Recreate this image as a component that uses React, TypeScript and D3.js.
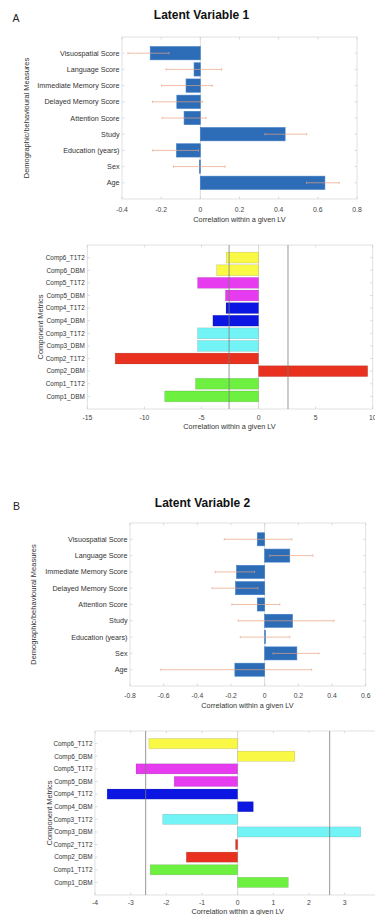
import React from "react";
import * as d3 from "d3";

// ---------- DATA ----------
const demoCategories = [
  "Age",
  "Sex",
  "Education (years)",
  "Study",
  "Attention Score",
  "Delayed Memory Score",
  "Immediate Memory Score",
  "Language Score",
  "Visuospatial Score",
];
const lv1Demo = [0.636, -0.005, -0.122, 0.433, -0.083, -0.12, -0.073, -0.032, -0.256];
const lv1DemoLo = [0.543, -0.137, -0.243, 0.33, -0.195, -0.244, -0.198, -0.175, -0.37];
const lv1DemoHi = [0.709, 0.126, -0.01, 0.543, 0.029, 0.01, 0.061, 0.108, -0.16];

const lv2Demo = [-0.177, 0.191, 0.002, 0.165, -0.044, -0.173, -0.167, 0.149, -0.044];
const lv2DemoLo = [-0.617, 0.05, -0.145, -0.157, -0.195, -0.312, -0.294, 0.03, -0.24];
const lv2DemoHi = [0.279, 0.322, 0.149, 0.412, 0.09, -0.04, -0.06, 0.286, 0.161];

const compCategories = [
  "Comp1_DBM",
  "Comp1_T1T2",
  "Comp2_DBM",
  "Comp2_T1T2",
  "Comp3_DBM",
  "Comp3_T1T2",
  "Comp4_DBM",
  "Comp4_T1T2",
  "Comp5_DBM",
  "Comp5_T1T2",
  "Comp6_DBM",
  "Comp6_T1T2",
];
const compColorNames = ["green", "green", "red", "red", "cyan", "cyan", "blue", "blue", "magenta", "magenta", "yellow", "yellow"];
const lv1Comp = [-8.22, -5.52, 9.56, -12.56, -5.34, -5.34, -4.0, -2.85, -2.9, -5.34, -3.67, -2.82];
const lv2Comp = [1.42, -2.45, -1.44, -0.06, 3.45, -2.1, 0.44, -3.66, -1.78, -2.85, 1.6, -2.49];
const thresholds = [-2.58, 2.58];

const demoTicks1 = [-0.4, -0.2, 0, 0.2, 0.4, 0.6, 0.8];
const compTicks1 = [-15, -10, -5, 0, 5, 10];
const demoTicks2 = [-0.8, -0.6, -0.4, -0.2, 0, 0.2, 0.4, 0.6];
const compTicks2 = [-4, -3, -2, -1, 0, 1, 2, 3];

const palette: Record<string, string> = {
  green: "#6DF03F",
  red: "#E8321F",
  cyan: "#72F4F6",
  blue: "#0B16E2",
  magenta: "#E63BEE",
  yellow: "#F9F945",
};

const FONT = "'Liberation Sans', Arial, Helvetica, sans-serif";
const BAR_BLUE = "#2D6CB6";
const ERR = "#E9A282";

type PanelProps = {
  x0: number;
  x1: number;
  yTop: number;
  yBottom: number;
  xDomain: [number, number];
  yMax: number;
  ticks: number[];
  categories: string[];
  values: number[];
  colors?: string[];
  lo?: number[];
  hi?: number[];
  barFrac: number;
  vlines?: number[];
  labelSize: number;
  yTitle: string;
  yTitleX: number;
  xTitleX: number;
  tickBaseline: number;
  xTitleBaseline: number;
};

function Panel(p: PanelProps) {
  const x = d3.scaleLinear().domain(p.xDomain).range([p.x0, p.x1]);
  const y = d3.scaleLinear().domain([0, p.yMax]).range([p.yBottom, p.yTop]);
  const step = Math.abs(y(1) - y(0));
  const bh = step * p.barFrac;
  const idx = d3.range(p.categories.length);
  const boxW = p.x1 - p.x0;
  const yMid = (p.yTop + p.yBottom) / 2;
  return (
    <g>
      <rect x={p.x0} y={p.yTop} width={boxW} height={p.yBottom - p.yTop} fill="#fff" stroke="#d9d9d9" strokeWidth={0.8} />
      {p.ticks.map((t) => (
        <g key={"xt" + t}>
          <line x1={x(t)} x2={x(t)} y1={p.yBottom} y2={p.yBottom - 2.5} stroke="#cfcfcf" strokeWidth={0.7} />
          <line x1={x(t)} x2={x(t)} y1={p.yTop} y2={p.yTop + 2.5} stroke="#cfcfcf" strokeWidth={0.7} />
          <text x={x(t)} y={p.tickBaseline} fontSize={6.8} fill="#444" textAnchor="middle" fontFamily={FONT}>
            {String(t)}
          </text>
        </g>
      ))}
      {idx.map((i) => (
        <g key={"yt" + i}>
          <line x1={p.x0} x2={p.x0 + 2.5} y1={y(i + 1)} y2={y(i + 1)} stroke="#cfcfcf" strokeWidth={0.7} />
          <line x1={p.x1} x2={p.x1 - 2.5} y1={y(i + 1)} y2={y(i + 1)} stroke="#cfcfcf" strokeWidth={0.7} />
          <text
            x={p.x0 - 2.5}
            y={y(i + 1) + p.labelSize * 0.36}
            fontSize={p.labelSize}
            fill="#333"
            textAnchor="end"
            fontFamily={FONT}
          >
            {p.categories[i]}
          </text>
        </g>
      ))}
      <line x1={x(0)} x2={x(0)} y1={p.yTop} y2={p.yBottom} stroke="#d0d0d0" strokeWidth={0.8} />
      {idx.map((i) => {
        const v = p.values[i];
        const xa = Math.min(x(0), x(v));
        const w = Math.max(Math.abs(x(v) - x(0)), 0.8);
        const fill = p.colors ? p.colors[i] : BAR_BLUE;
        return (
          <rect
            key={"b" + i}
            x={xa}
            y={y(i + 1) - bh / 2}
            width={w}
            height={bh}
            fill={fill}
            stroke={p.colors ? "rgba(0,0,0,0.18)" : "#3d7cc4"}
            strokeWidth={0.6}
          />
        );
      })}
      {p.lo &&
        p.hi &&
        idx.map((i) => {
          const yy = y(i + 1);
          const a = x(p.lo![i]);
          const b = x(p.hi![i]);
          return (
            <g key={"e" + i} stroke={ERR} strokeWidth={0.8} opacity={0.85}>
              <line x1={a} x2={b} y1={yy} y2={yy} />
              <line x1={a} x2={a} y1={yy - 1.2} y2={yy + 1.2} />
              <line x1={b} x2={b} y1={yy - 1.2} y2={yy + 1.2} />
            </g>
          );
        })}
      {p.vlines &&
        p.vlines.map((v) => (
          <line key={"v" + v} x1={x(v)} x2={x(v)} y1={p.yTop} y2={p.yBottom} stroke="#7a7a7a" strokeWidth={0.9} opacity={0.85} />
        ))}
      <text x={p.xTitleX} y={p.xTitleBaseline} fontSize={7.3} fill="#333" textAnchor="middle" fontFamily={FONT}>
        Correlation within a given LV
      </text>
      <text
        transform={`translate(${p.yTitleX},${yMid}) rotate(-90)`}
        fontSize={7.5}
        fill="#333"
        textAnchor="middle"
        fontFamily={FONT}
      >
        {p.yTitle}
      </text>
    </g>
  );
}

export default function App() {
  const compColors = compColorNames.map((c) => palette[c]);
  return (
    <svg
      width={375}
      height={915}
      viewBox="0 0 375 915"
      style={{ position: "absolute", left: 0, top: 0, background: "#fff", overflow: "hidden" }}
      fontFamily={FONT}
    >
      <rect x={0} y={0} width={375} height={915} fill="#fff" />
      <text x={12.5} y={22} fontSize={10.5} fill="#222">A</text>
      <text x={201.5} y={19} fontSize={12} fontWeight="bold" fill="#111" textAnchor="middle">
        Latent Variable 1
      </text>
      <Panel
        x0={122}
        x1={357}
        yTop={37}
        yBottom={199}
        xDomain={[-0.4, 0.8]}
        yMax={10}
        ticks={demoTicks1}
        categories={demoCategories}
        values={lv1Demo}
        lo={lv1DemoLo}
        hi={lv1DemoHi}
        barFrac={0.82}
        labelSize={7.2}
        yTitle="Demographic/behavioural Measures"
        yTitleX={28.5}
        xTitleX={239.5}
        tickBaseline={211.5}
        xTitleBaseline={221.5}
      />
      <Panel
        x0={87.3}
        x1={372.7}
        yTop={245}
        yBottom={409}
        xDomain={[-15, 10]}
        yMax={13}
        ticks={compTicks1}
        categories={compCategories}
        values={lv1Comp}
        colors={compColors}
        barFrac={0.86}
        vlines={thresholds}
        labelSize={6.4}
        yTitle="Component Metrics"
        yTitleX={43.3}
        xTitleX={229.5}
        tickBaseline={419.8}
        xTitleBaseline={428.5}
      />
      <text x={13} y={509.5} fontSize={10.5} fill="#222">B</text>
      <text x={202.5} y={506.7} fontSize={12} fontWeight="bold" fill="#111" textAnchor="middle">
        Latent Variable 2
      </text>
      <Panel
        x0={130}
        x1={365.7}
        yTop={523}
        yBottom={686}
        xDomain={[-0.8, 0.6]}
        yMax={10}
        ticks={demoTicks2}
        categories={demoCategories}
        values={lv2Demo}
        lo={lv2DemoLo}
        hi={lv2DemoHi}
        barFrac={0.8}
        labelSize={7.2}
        yTitle="Demographic/behavioural Measures"
        yTitleX={36}
        xTitleX={247.5}
        tickBaseline={698}
        xTitleBaseline={707.5}
      />
      <Panel
        x0={95}
        x1={380.3}
        yTop={731}
        yBottom={895}
        xDomain={[-4, 4]}
        yMax={13}
        ticks={compTicks2}
        categories={compCategories}
        values={lv2Comp}
        colors={compColors}
        barFrac={0.8}
        vlines={thresholds}
        labelSize={6.4}
        yTitle="Component Metrics"
        yTitleX={52}
        xTitleX={237.7}
        tickBaseline={904.8}
        xTitleBaseline={913.5}
      />
    </svg>
  );
}
